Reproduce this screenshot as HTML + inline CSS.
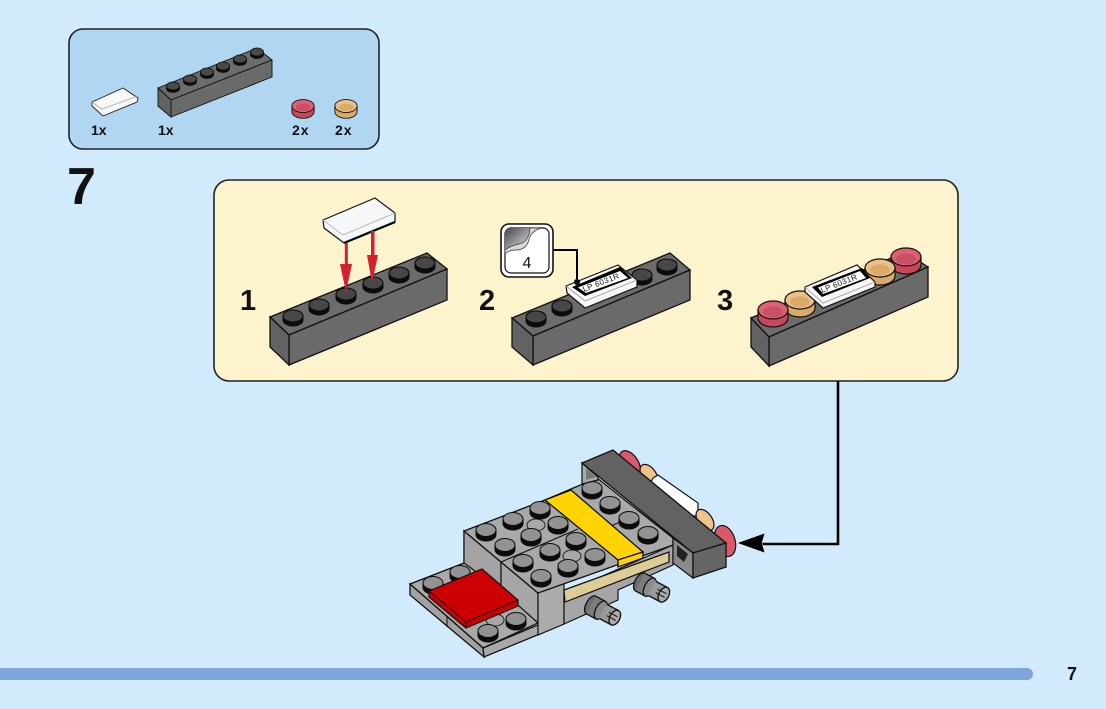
<!DOCTYPE html>
<html><head><meta charset="utf-8"><style>
html,body{margin:0;padding:0;width:1106px;height:709px;overflow:hidden;background:#d2ebfc}
svg{display:block}
text{font-family:"Liberation Sans",sans-serif;fill:#111}
</style></head><body>
<svg width="1106" height="709" viewBox="0 0 1106 709" xmlns="http://www.w3.org/2000/svg">
<defs>
<linearGradient id="g" x1="0" y1="0" x2="1" y2="1"><stop offset="0" stop-color="#444"/><stop offset="1" stop-color="#e5e5e5"/></linearGradient>
<g id="s"><path d="M-10 0V4A10 6 0 0 0 10 4V0Z" fill="#0c0c0c" stroke="#0c0c0c"/><ellipse cx="0" cy="0" rx="10" ry="6" fill="#474747" stroke="#0c0c0c" stroke-width="1.100"/></g>
<g id="ss"><path d="M-6.500 0V2.500A6.500 4 0 0 0 6.500 2.500V0Z" fill="#0c0c0c" stroke="#0c0c0c" stroke-width=".8"/><ellipse cx="0" cy="0" rx="6.500" ry="4" fill="#4a4a4a" stroke="#0c0c0c" stroke-width=".8"/></g>
<g id="m"><path d="M-10 0V4.500A10 6.500 0 0 0 10 4.500V0Z" fill="#0c0c0c" stroke="#0c0c0c"/><ellipse cx="0" cy="0" rx="10" ry="6.500" fill="#929292" stroke="#0c0c0c" stroke-width="1"/></g>
<g id="f"><ellipse cx="0" cy="0" rx="9" ry="6" fill="#a8a8a8" stroke="#222" stroke-width="1"/></g>
<g id="r"><path d="M-15 0V8A15 9 0 0 0 15 8V0Z" fill="#c9475b" stroke="#111" stroke-width="1.200"/><ellipse cx="0" cy="0" rx="15" ry="9" fill="#dc6175" stroke="#111" stroke-width="1.200"/><ellipse cx="0" cy="2" rx="10" ry="5.500" fill="#c94f62"/></g>
<g id="t"><path d="M-15 0V8A15 9 0 0 0 15 8V0Z" fill="#dcaa68" stroke="#111" stroke-width="1.200"/><ellipse cx="0" cy="0" rx="15" ry="9" fill="#eac08a" stroke="#111" stroke-width="1.200"/><ellipse cx="0" cy="2" rx="10" ry="5.500" fill="#dcaa68"/></g>
<g id="p"><ellipse cx="0" cy="0" rx="5" ry="10" fill="#6e6e6e" stroke="#111" stroke-width="1.300"/><rect x="0" y="-10" width="11" height="20" fill="#7d7d7d"/><path d="M0 -10H11M0 10H11" stroke="#111" stroke-width="1.300"/><ellipse cx="11" cy="0" rx="5" ry="10" fill="#8c8c8c" stroke="#111" stroke-width="1.300"/><rect x="13" y="-8" width="14" height="16" fill="#9a9a9a"/><path d="M14 -8H27M14 8H27" stroke="#111" stroke-width="1.300"/><ellipse cx="27" cy="0" rx="5" ry="8" fill="#aaa" stroke="#111" stroke-width="1.300"/><path d="M19 -2H29M19 2H29" stroke="#111" fill="none" stroke-width="1"/></g>
</defs>
<rect width="1106" height="709" fill="#d2ebfc"/>

<!-- parts box -->
<rect x="69" y="29" width="310" height="120" rx="14" fill="#b0d6f2" stroke="#222" stroke-width="1.600"/>
<polygon points="92,102 123,88 138,98 137,102 103,116 92,106" fill="#f8f8f8" stroke="#222" stroke-width=".9"/>
<polyline points="92,102 102,109 138,96" fill="none" stroke="#aaa" stroke-width=".8"/>
<polygon points="158,88 257,48 272,60 171,100" fill="#6c6c6c" stroke="#111" stroke-width=".9"/>
<polygon points="171,100 272,60 272,77 171,117" fill="#6a6a6a" stroke="#111" stroke-width=".9"/>
<polygon points="158,88 171,100 171,117 158,106" fill="#626262" stroke="#111" stroke-width=".9"/>
<use href="#ss" x="173" y="86"/><use href="#ss" x="190" y="79"/><use href="#ss" x="207" y="72"/><use href="#ss" x="223" y="66"/><use href="#ss" x="240" y="59"/><use href="#ss" x="257" y="52"/>
<g transform="translate(303 106) scale(.74 .72)"><use href="#r"/></g>
<g transform="translate(346 106) scale(.74 .72)"><use href="#t"/></g>
<g font-weight="700" font-size="14"><text x="91" y="135">1x</text><text x="158" y="135">1x</text><text x="292" y="135" letter-spacing="1">2x</text><text x="335" y="135" letter-spacing="1">2x</text></g>

<text x="67" y="204" font-size="52" font-weight="700">7</text>

<!-- yellow panel -->
<rect x="214" y="180" width="744" height="201" rx="15" fill="#fdf3cd" stroke="#222" stroke-width="1.600"/>
<g font-size="29" font-weight="700"><text x="240" y="310">1</text><text x="479" y="310">2</text><text x="717" y="310">3</text></g>

<!-- step 1 -->
<polygon points="270,317 427,253 447,269 289,335" fill="#6c6c6c" stroke="#111" stroke-width="1.300"/>
<polygon points="289,335 447,269 447,300 289,365" fill="#6a6a6a" stroke="#111" stroke-width="1.300"/>
<polygon points="270,317 289,335 289,365 270,347" fill="#626262" stroke="#111" stroke-width="1.300"/>
<use href="#s" x="293" y="316"/><use href="#s" x="319" y="305"/><use href="#s" x="346" y="294"/><use href="#s" x="373" y="283"/><use href="#s" x="399" y="273"/><use href="#s" x="425" y="263"/>
<polygon points="323,220 375,198 395,213 395,222 344,243 324,228" fill="#f6f7f9" stroke="#111" stroke-width="1.200"/>
<polyline points="323,220 343,235 395,213" fill="none" stroke="#bbb" stroke-width="1"/>
<path d="M344 243L395 222" stroke="#000" stroke-width="2.200" fill="none"/>
<rect x="344.800" y="243" width="3" height="22" fill="#d3212f"/>
<polygon points="340,264 352,264 346,292" fill="#d3212f"/>
<rect x="371" y="231" width="3.500" height="25" fill="#d3212f"/>
<polygon points="367,255 378,255 372,283" fill="#d3212f"/>

<!-- step 2 -->
<polygon points="512,318 670,253 690,270 533,336" fill="#6c6c6c" stroke="#111" stroke-width="1.300"/>
<polygon points="533,336 690,270 690,300 533,365" fill="#6a6a6a" stroke="#111" stroke-width="1.300"/>
<polygon points="512,318 533,336 533,365 512,347" fill="#626262" stroke="#111" stroke-width="1.300"/>
<use href="#s" x="536" y="317"/><use href="#s" x="562" y="306"/><use href="#s" x="642" y="275"/><use href="#s" x="667" y="265"/>
<polygon points="566,286 618,265 637,280 637,287 585,308 567,293" fill="#f7f7f7" stroke="#111" stroke-width="1.200"/>
<polyline points="566,286 585,301 637,280" fill="none" stroke="#999" stroke-width=".8"/>
<polygon points="572,287 620,267 632,278 585,296" fill="#000"/>
<polygon points="578,287.500 620,271 628,278 586,293" fill="#fff"/>
<text transform="translate(584 292) rotate(-21.500)" font-size="8" letter-spacing=".4">LP 6031R</text>
<path d="M553 250H577V282" fill="none" stroke="#000" stroke-width="2"/>
<circle cx="577" cy="282" r="3" fill="#000"/>
<rect x="501" y="224" width="52" height="53" rx="8" fill="#fff" stroke="#111" stroke-width="1.600"/>
<rect x="505" y="228" width="44" height="45" rx="6" fill="#fff" stroke="#111" stroke-width="1.200"/>
<path d="M505 250V234Q505 228 511 228H530Q529 242 519 244Q510 246 505 250Z" fill="url(#g)"/>
<path d="M505 250Q510 246 519 244Q529 242 530 228H541Q530 232 529 240Q526 250 516 250Q509 250 505 254Z" fill="#d8d8d8" stroke="#333" stroke-width=".7"/>
<text x="527" y="268" font-size="16" text-anchor="middle" fill="#222">4</text>

<!-- step 3 -->
<polygon points="751,318 905,252 928,267 769,337" fill="#6c6c6c" stroke="#111" stroke-width="1.300"/>
<polygon points="769,337 928,267 928,297 769,366" fill="#6a6a6a" stroke="#111" stroke-width="1.300"/>
<polygon points="751,318 769,337 769,366 751,347" fill="#626262" stroke="#111" stroke-width="1.300"/>
<use href="#r" x="906" y="257"/><use href="#t" x="880" y="268"/>
<use href="#t" x="800" y="300"/><use href="#r" x="773" y="310"/>
<polygon points="805,287 857,265 875,282 875,287 823,308 805,292" fill="#f7f7f7" stroke="#111" stroke-width="1.200"/>
<polyline points="805,287 823,303 875,282" fill="none" stroke="#999" stroke-width=".8"/>
<polygon points="812,287 862,268 870,278 822,297" fill="#000"/>
<polygon points="818,287.500 860,271 866,278 823,294" fill="#fff"/>
<text transform="translate(822 293) rotate(-21.500)" font-size="8" letter-spacing=".4">LP 6031R</text>

<!-- connector -->
<path d="M838 381V544H762" fill="none" stroke="#000" stroke-width="2.600"/>
<polygon points="737,543 765,533 762,543 765,553" fill="#000" stroke="#fff" stroke-width=".5"/>

<!-- rear lights behind the beam -->
<ellipse cx="630" cy="463" rx="8" ry="14" transform="rotate(-35 630 463)" fill="#d9586a" stroke="#111" stroke-width="1.200"/>
<ellipse cx="649" cy="475" rx="7" ry="12" transform="rotate(-35 649 475)" fill="#eec48c" stroke="#111" stroke-width="1.200"/>
<polygon points="653,478 658,475 698,503 698,516 690,516 650,484" fill="#fff" stroke="#111" stroke-width="1.200"/>
<ellipse cx="705" cy="520" rx="7" ry="12" transform="rotate(-35 705 520)" fill="#eec48c" stroke="#111" stroke-width="1.200"/>
<ellipse cx="725" cy="541" rx="10" ry="16" transform="rotate(-18 725 541)" fill="#d9586a" stroke="#111" stroke-width="1.200"/>

<!-- lower plate -->
<polygon points="410,584 464,563 464,531 501,562 538,593 538,623 483,648" fill="#a9a9a9" stroke="#111" stroke-width="1.300"/>
<polygon points="410,584 483,648 484,657 410,595" fill="#a2a2a2" stroke="#111" stroke-width="1.300"/>
<polygon points="483,648 564,614 564,624 484,657" fill="#a8a8a8" stroke="#111" stroke-width="1.300"/>
<path d="M447 617V627" stroke="#111"/>
<!-- body faces -->
<polygon points="464,531 501,562 501,590 464,563" fill="#a3a3a3" stroke="#111" stroke-width="1.200"/>
<polygon points="501,562 538,593 538,623 501,590" fill="#a6a6a6" stroke="#111" stroke-width="1.200"/>
<polygon points="538,593 564,583 564,624 538,635 538,623" fill="#ababab" stroke="#111" stroke-width="1.200"/>
<polygon points="564,593 673,545 673,565 618,590 618,600 564,624" fill="#a6a6a6" stroke="#111" stroke-width="1.200"/>
<polygon points="564,590 669,552 669,562 565,602" fill="#dccd97" stroke="#111" stroke-width="1.200"/>
<!-- pins -->
<g transform="translate(591 605) rotate(28)"><use href="#p"/></g>
<g transform="translate(640 582) rotate(28)"><use href="#p"/></g>
<!-- top -->
<polygon points="464,531 545,500 597,478 673,538 673,545 538,593" fill="#a9a9a9" stroke="#111" stroke-width="1.300"/>
<path d="M501 562L578 529" stroke="#111" stroke-width="1.100" fill="none"/>
<path d="M608 527L633 517" stroke="#111" stroke-width="1.100" fill="none"/>
<!-- yellow -->
<polygon points="545,500 571,490 643,552 618,560" fill="#ffd400" stroke="#111" stroke-width="1.300"/>
<polygon points="618,560 643,552 643,558 618,567" fill="#ffd400" stroke="#111" stroke-width="1.300"/>
<!-- studs -->
<use href="#f" x="536" y="525"/><use href="#f" x="572" y="556"/>
<use href="#m" x="540" y="508"/><use href="#m" x="513" y="519"/><use href="#m" x="486" y="530"/>
<use href="#m" x="558" y="523"/><use href="#m" x="531" y="535"/><use href="#m" x="505" y="545"/>
<use href="#m" x="576" y="539"/><use href="#m" x="550" y="550"/><use href="#m" x="523" y="561"/>
<use href="#m" x="595" y="555"/><use href="#m" x="568" y="566"/><use href="#m" x="541" y="576"/>
<use href="#m" x="592" y="488"/><use href="#m" x="610" y="503"/><use href="#m" x="629" y="518"/><use href="#m" x="648" y="533"/>
<use href="#m" x="433" y="583"/><use href="#m" x="460" y="572"/>
<use href="#f" x="495" y="620"/><use href="#m" x="516" y="619"/><use href="#m" x="488" y="631"/>
<!-- red tile -->
<polygon points="429,591 482,569 518,600 518,606 466,628 429,597" fill="#cc0000" stroke="#111" stroke-width="1.200"/>
<polyline points="429,591 466,622 518,600" fill="none" stroke="#111" stroke-width="1"/>
<path d="M466 622V628" stroke="#111"/>
<!-- beam -->
<polygon points="582,463 598,477 598,480 582,484" fill="#aaa" stroke="#111" stroke-width="1.200"/>
<polygon points="586,468 596,477 586,480" fill="#777"/>
<polygon points="673,538 693,553 693,578 673,563" fill="#8a8a8a" stroke="#111" stroke-width="1.200"/>
<polygon points="677,545 688,554 684,562 677,556" fill="#222"/>
<polygon points="582,463 613,450 726,543 693,553" fill="#626262" stroke="#111" stroke-width="1.300"/>
<polygon points="693,553 726,543 726,567 693,578" fill="#666" stroke="#111" stroke-width="1.300"/>

<!-- footer -->
<rect x="-8" y="668" width="1041" height="12" rx="6" fill="#7fa5da"/>
<text x="1067" y="680" font-size="18" font-weight="700">7</text>
</svg>
</body></html>
